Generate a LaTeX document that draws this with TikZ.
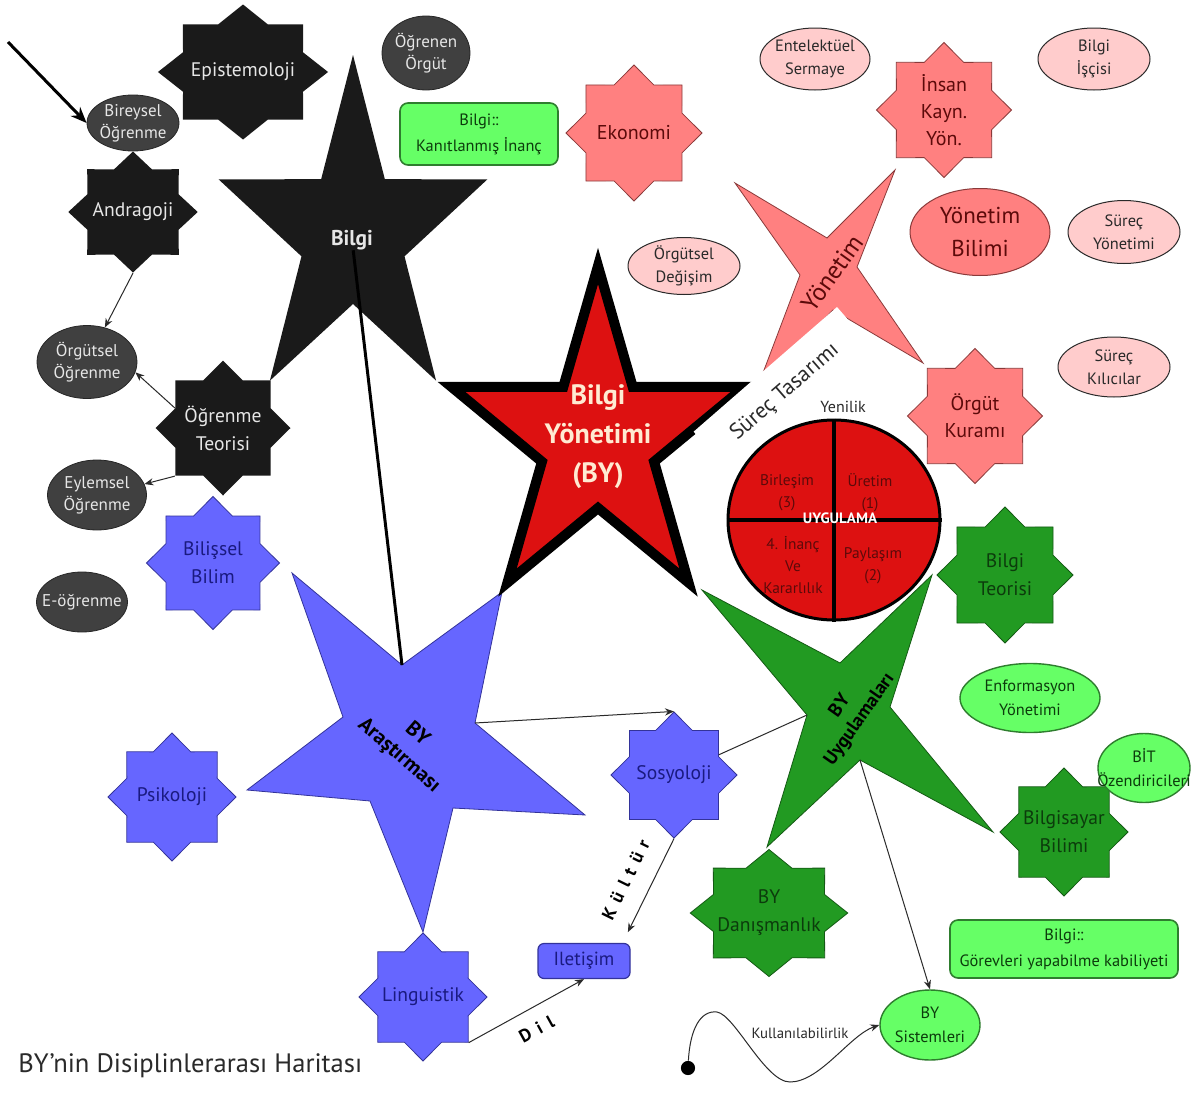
\documentclass[tikz,border=0pt]{standalone}
\usepackage{fontspec}
\setmainfont{PT Sans}
\usetikzlibrary{shapes.geometric,arrows.meta}
\definecolor{Coal}{HTML}{1A1A1A}
\definecolor{Slate}{HTML}{404040}
\definecolor{Fog}{HTML}{E6E6E6}
\definecolor{Periw}{HTML}{6666FF}
\definecolor{PeriwEdge}{HTML}{33339A}
\definecolor{Navy}{HTML}{1A1A80}
\definecolor{Salmon}{HTML}{FF8080}
\definecolor{SalmonEdge}{HTML}{8A3A3A}
\definecolor{Wine}{HTML}{5C0A0A}
\definecolor{Blush}{HTML}{FFCCCC}
\definecolor{Forest}{HTML}{229A22}
\definecolor{ForestEdge}{HTML}{145A14}
\definecolor{Pine}{HTML}{0C3C0C}
\definecolor{Mint}{HTML}{66FF66}
\definecolor{MintEdge}{HTML}{2E7D2E}
\definecolor{Crimson}{HTML}{DD1111}
\definecolor{Cream}{HTML}{FFEBD2}
\definecolor{Ink}{HTML}{2A2A2A}

\begin{document}
\begin{tikzpicture}[x=0.5pt,y=-0.5pt,>={Stealth[length=4.5pt,width=3.6pt]},
  every node/.style={align=center,inner sep=0pt,font=\fontsize{9.8}{14}\selectfont},
  oct/.style={star,star points=8,star point ratio=1.31,minimum size=66pt,line width=0.4pt},
  kara/.style={oct,fill=Coal,label={[text=Fog]center:{#1}}},
  mavi/.style={oct,fill=Periw,draw=PeriwEdge,label={[text=Navy]center:{#1}}},
  somon/.style={oct,fill=Salmon,draw=SalmonEdge,label={[text=Wine,font=\fontsize{10}{13.5}\selectfont]center:{#1}}},
  yesil/.style={oct,fill=Forest,draw=ForestEdge,label={[text=Pine]center:{#1}}},
  koyu/.style={ellipse,fill=Slate,draw=Slate!60!black,line width=0.4pt,label={[text=Fog,font=\fontsize{8.5}{11}\selectfont]center:{#1}}},
  pembe/.style={ellipse,fill=Blush,draw=Ink,line width=0.5pt,label={[text=Ink,font=\fontsize{8.2}{11.5}\selectfont]center:{#1}}},
  acik/.style={ellipse,fill=Mint,draw=MintEdge,line width=0.7pt,label={[text=Pine,font=\fontsize{8.2}{12}\selectfont]center:{#1}}},
  kutu/.style={rectangle,rounded corners=4pt,fill=Mint,draw=MintEdge,line width=0.8pt,label={[text=Pine,font=\fontsize{8.2}{13}\selectfont]center:{#1}}},
  ceyrek/.style={text=Wine,font=\fontsize{7.7}{11}\selectfont},
  ok/.style={draw=Ink,line width=0.5pt},
  harf/.style={font=\bfseries\fontsize{9}{10}\selectfont,text=black},
  dot/.style={circle,fill=black,inner sep=2.5pt}]
\useasboundingbox (0,0) rectangle (1200,1108);
\fill[white] (0,0) rectangle (1200,1108);

% big stars
\begin{scope}[shift={(353,235)},xscale=0.785]
\fill[Coal] (-90:180) \foreach \k in {0,...,3}{ -- ({-54+72*\k}:69) -- ({-18+72*\k}:180)} -- (234:69) -- cycle;
\end{scope}
\draw[fill=Periw,draw=PeriwEdge,line width=0.4pt] (292,573) -- (402,665) coordinate (arau) -- (502,592) -- (475,723) coordinate (arasag) -- (585,815) -- (453,808) -- (423,932) -- (370,801) -- (247,790) -- (343,717) -- cycle;
\draw[fill=Salmon,draw=SalmonEdge,line width=0.4pt] (735,183) -- (827,238) -- (895,170) -- (857,267) -- (923,363) -- (833,310) -- (758,386) -- (800,275) -- cycle;
\draw[fill=Forest,draw=ForestEdge,line width=0.4pt] (702,590) -- (840,663) -- (932,575) -- (890,707) -- (993,832) -- (860,760) coordinate (uygalt) -- (767,847) -- (807,715) coordinate (uygsol) -- cycle;
\begin{scope}[shift={(598,441)},xscale=0.88]
\filldraw[fill=Crimson,draw=black,line width=5pt] (-90:175) \foreach \k in {0,...,3}{ -- ({-54+72*\k}:67) -- ({-18+72*\k}:175)} -- (234:67) -- cycle;
\end{scope}
\node[fill=white,rotate=41,minimum width=95pt,minimum height=30pt,font=\fontsize{11}{12}\selectfont,text=Ink] (tasarim) at (785,392) {Süreç Tasarımı};
\node[font=\fontsize{8}{10}\selectfont,text=Ink] (yenilik) at (843,407) {Yenilik};

% uygulama circle
\node[ellipse,fill=Crimson,draw=black,line width=1.5pt,minimum width=106pt,minimum height=100pt] (uyg) at (834,520) {};
\draw[line width=2pt] (uyg.north) -- (uyg.south); \draw[line width=2pt] (uyg.west) -- (uyg.east);
\node[ceyrek] (birlesim) at (787,493) {Birleşim\\(3)};
\node[ceyrek] (uretim) at (870,493) {Üretim\\(1)};
\node[ceyrek] (inanc) at (793,565) {4. İnanç\\Ve\\Kararlılık};
\node[ceyrek] (paylasim) at (873,566) {Paylaşım\\(2)};
\node[font=\bfseries\fontsize{7.5}{9}\selectfont,text=white] (uygulama) at (840,518) {UYGULAMA};

% eight pointed stars
\node[kara=Epistemoloji,minimum size=67.5pt,xscale=1.26,transform shape] (epi) at (243,72) {};
\node[kara=Andragoji,minimum size=60.5pt,xscale=1.07,transform shape] (andra) at (133,212) {};
\node[kara={Öğrenme\\Teorisi},minimum size=67.5pt] (ogrteo) at (223,428) {};
\node[mavi={Bilişsel\\Bilim},minimum size=66.5pt] (bilis) at (213,563) {};
\node[mavi=Psikoloji,minimum size=64pt] (psiko) at (172,797) {};
\node[mavi=Linguistik,minimum size=64pt] (lingu) at (423,997) {};
\node[mavi=Sosyoloji,minimum size=63pt] (sosyo) at (674,775) {};
\node[somon=Ekonomi,minimum size=68pt] (eko) at (634,133) {};
\node[somon={İnsan\\Kayn.\\Yön.},minimum size=67.5pt] (insan) at (944,110) {};
\node[somon={Örgüt\\Kuramı},minimum size=67.5pt] (orgkur) at (975,416) {};
\node[yesil={Bilgi\\Teorisi},minimum size=68pt] (bteo) at (1005,575) {};
\node[yesil={Bilgisayar\\Bilimi},minimum size=64pt] (bsay) at (1064,832) {};
\node[yesil={BY\\Danışmanlık},minimum size=63.5pt,xscale=1.24,transform shape] (bydan) at (769,913) {};

% ellipses and boxes
\node[koyu={Bireysel\\Öğrenme},minimum width=46pt,minimum height=28pt] (birey) at (133,123) {};
\node[koyu={Öğrenen\\Örgüt},minimum width=44pt,minimum height=37pt] (ogrorg) at (426,53) {};
\node[koyu={Örgütsel\\Öğrenme},minimum width=50pt,minimum height=36.5pt] (orgogr) at (87,362) {};
\node[koyu={Eylemsel\\Öğrenme},minimum width=49.5pt,minimum height=35pt] (eylem) at (97,495) {};
\node[koyu={E-öğrenme},minimum width=45.5pt,minimum height=30pt] (eogr) at (82,602) {};
\node[pembe={Entelektüel\\Sermaye},minimum width=55pt,minimum height=31pt] (entel) at (815,59) {};
\node[pembe={Bilgi\\İşçisi},minimum width=56pt,minimum height=31pt] (bisci) at (1094,59) {};
\node[pembe={Örgütsel\\Değişim},minimum width=56pt,minimum height=28.5pt] (orgdeg) at (684,266) {};
\node[pembe={Süreç\\Yönetimi},minimum width=56pt,minimum height=31.5pt] (surey) at (1124,232) {};
\node[pembe={Süreç\\Kılıcılar},minimum width=56pt,minimum height=30pt] (surkil) at (1114,367) {};
\node[ellipse,fill=Salmon,draw=SalmonEdge,line width=0.5pt,minimum width=70pt,minimum height=43.5pt,label={[text=Wine,font=\fontsize{11.5}{16.5}\selectfont]center:{Yönetim\\Bilimi}}] (ybilim) at (980,232) {};
\node[acik={Enformasyon\\Yönetimi},minimum width=70pt,minimum height=34.5pt] (enf) at (1030,698) {};
\node[acik={BİT\\Özendiricileri},minimum width=46pt,minimum height=34.5pt] (bit) at (1144,768) {};
\node[acik={BY\\Sistemleri},minimum width=50pt,minimum height=35pt] (bysis) at (930,1025) {};
\node[kutu={Bilgi::\\Kanıtlanmış İnanç},minimum width=79pt,minimum height=31pt] (kanit) at (479,134) {};
\node[kutu={Bilgi::\\Görevleri yapabilme kabiliyeti},minimum width=114pt,minimum height=29pt] (gorev) at (1064,949) {};
\node[rectangle,rounded corners=3pt,fill=Periw,draw=PeriwEdge,line width=0.6pt,minimum width=46pt,minimum height=17.5pt,text=Navy,font=\fontsize{9.5}{11}\selectfont] (ilet) at (584,961) {Iletişim};

% star texts
\node[font=\bfseries\fontsize{10.7}{13}\selectfont,text=Fog] (bilgi) at (352,240) {Bilgi};
\node[font=\bfseries\fontsize{14}{19.5}\selectfont,text=Cream] (by) at (598,437) {Bilgi\\Yönetimi\\(BY)};
\node[font=\bfseries\fontsize{10.5}{14}\selectfont,text=black,rotate=-41] (ara) at (408,745) {BY\\Araştırması};
\node[font=\fontsize{12.5}{14}\selectfont,text=Wine,rotate=54.5] (yonetim) at (832,273) {Yönetim};
\node[font=\bfseries\fontsize{9.5}{12}\selectfont,text=black,rotate=55] (uygla) at (850,713) {BY\\Uygulamaları};

% connectors
\coordinate (astart) at (8,42);
\draw[line width=1.5pt,-{Stealth[length=8pt,width=6.5pt]}] (astart) -- (birey.west);
\draw[ok,->] (andra.outer point 5) -- (orgogr);
\draw[ok,->] (ogrteo.inner point 2) -- (orgogr.-12);
\draw[ok,->] (ogrteo.outer point 4) -- (eylem.13);
\draw[line width=1.5pt] (bilgi) -- (arau);
\draw[ok,->] (arasag) -- (sosyo.outer point 1);
\draw[ok,->,shorten >=6pt] (sosyo.outer point 5) -- ([xshift=-4pt]ilet.north east) node[harf,midway,sloped,above=9pt] (kultur) {K \,ü \,l \,t \,ü \,r};
\draw[ok,->] (lingu.outer point 6) -- (ilet.south) node[harf,midway,sloped,below=7pt] (dil) {D \,i \,l};
\draw[ok] (uygsol) -- (sosyo);
\draw[ok,->] (uygalt) -- (bysis.north);
\node[dot] (kstart) at (688,1068) {};
\draw[ok,->] (kstart) .. controls (690,1030) and (700,1010) .. (717,1012) .. controls (735,1015) and (765,1082) .. (790,1082) .. controls (820,1082) and (850,1035) .. (bysis.west);
\node[font=\fontsize{7.4}{9}\selectfont,text=Ink] (kullan) at (800,1033) {Kullanılabilirlik};

\node[anchor=base west,font=\fontsize{13.3}{16}\selectfont,text=Ink] (baslik) at (18,1072) {BY’nin Disiplinlerarası Haritası};
\end{tikzpicture}
\end{document}
